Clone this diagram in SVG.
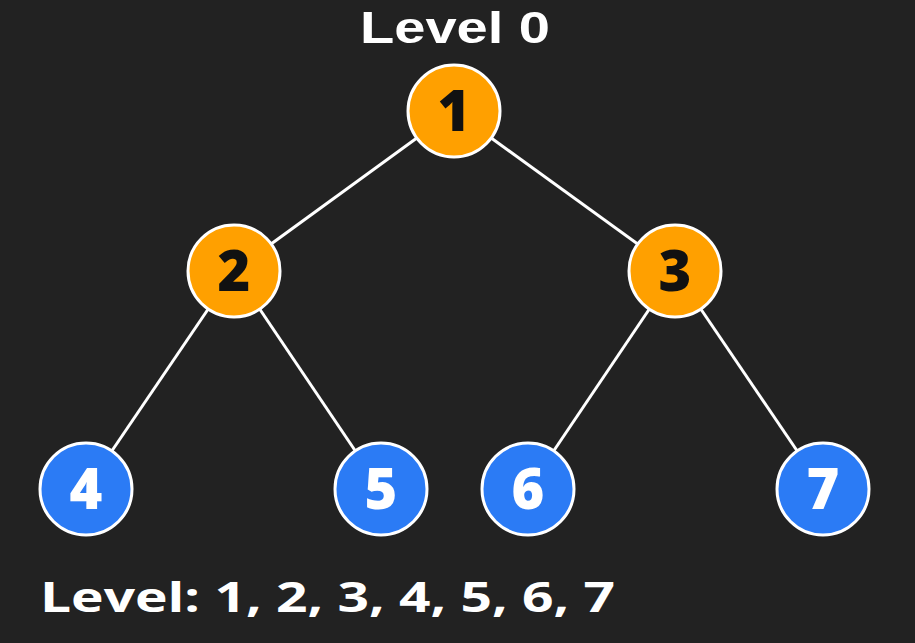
<svg xmlns="http://www.w3.org/2000/svg" width="915" height="643" viewBox="0 0 915 643">
<style>
.bg{fill:#222222}
.edge{stroke:#ffffff;stroke-width:3}
.n circle{stroke:#ffffff;stroke-width:3}
.o circle{fill:#FFA000}
.b circle{fill:#2B7BF5}
.n text{font-family:"Open Sans","Liberation Sans",sans-serif;font-weight:800;font-size:56px;text-anchor:middle}
.o text{fill:#111111}
.b text{fill:#ffffff}
.t{font-family:"Open Sans","Liberation Sans",sans-serif;font-weight:700;fill:#ffffff}
</style>
<rect class="bg" width="915" height="643"/>
<g id="connectors">
<line class="edge" x1="454" y1="111" x2="234" y2="271"/>
<line class="edge" x1="454" y1="111" x2="675" y2="271"/>
<line class="edge" x1="234" y1="271" x2="86" y2="489"/>
<line class="edge" x1="234" y1="271" x2="381" y2="489"/>
<line class="edge" x1="675" y1="271" x2="528" y2="489"/>
<line class="edge" x1="675" y1="271" x2="823" y2="489"/>
</g>
<text id="title" x="360" y="43" font-family="'Liberation Sans',Arial,sans-serif" font-weight="700" fill="#ffffff" font-size="44" textLength="190" lengthAdjust="spacingAndGlyphs">Level 0</text>
<g id="node1" class="n o"><circle cx="454" cy="111" r="46"/><text x="454" y="131">1</text></g>
<g id="node2" class="n o"><circle cx="234" cy="271" r="46"/><text x="234" y="291">2</text></g>
<g id="node3" class="n o"><circle cx="675" cy="271" r="46"/><text x="675" y="291">3</text></g>
<g id="node4" class="n b"><circle cx="86" cy="489" r="46"/><text x="86" y="509">4</text></g>
<g id="node5" class="n b"><circle cx="381" cy="489" r="46"/><text x="381" y="509">5</text></g>
<g id="node6" class="n b"><circle cx="528" cy="489" r="46"/><text x="528" y="509">6</text></g>
<g id="node7" class="n b"><circle cx="823" cy="489" r="46"/><text x="823" y="509">7</text></g>
<text id="order" class="t" x="40" y="612" font-size="41" textLength="575" lengthAdjust="spacingAndGlyphs">Level: 1, 2, 3, 4, 5, 6, 7</text>
</svg>
